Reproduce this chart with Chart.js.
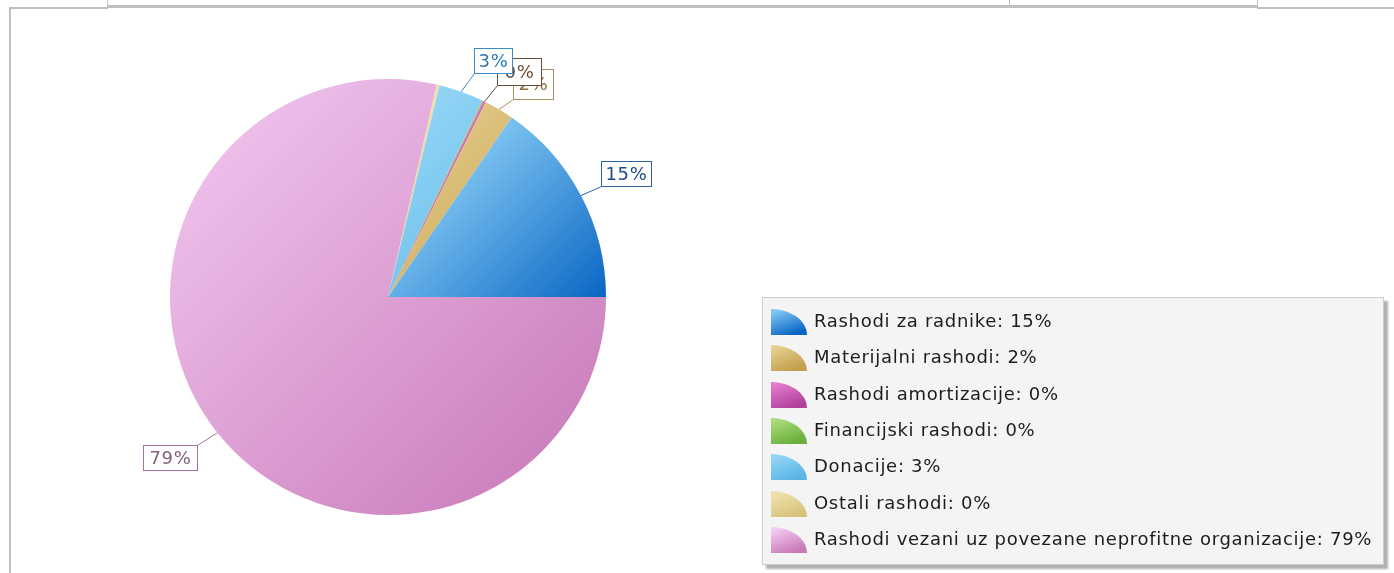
<!DOCTYPE html>
<html>
<head>
<meta charset="utf-8">
<script src="https://cdn.jsdelivr.net/npm/chart.js@4/dist/chart.umd.min.js"></script>
<style>
  html,body{margin:0;padding:0;background:#fff;}
  body{width:1394px;height:573px;position:relative;overflow:hidden;font-family:"DejaVu Sans",sans-serif;}
  .ln{position:absolute;background:#c0c0c0;}
  #wrap{position:absolute;left:0;top:0;width:1394px;height:573px;}
  #legend{position:absolute;left:762px;top:297px;width:622px;height:268px;box-sizing:border-box;
    background:#f4f4f4;border:1px solid #cfcfcf;box-shadow:4px 4px 2px #b0b0b0;}
  .row{position:absolute;left:8px;height:30px;}
  .ico{position:absolute;left:0;top:2px;width:36px;height:26px;border-radius:0 36px 0 0 / 0 26px 0 0;}
  .txt{position:absolute;left:43px;top:3px;font-size:18px;letter-spacing:0.7px;color:#1c1c1c;white-space:nowrap;}
</style>
</head>
<body>
<div class="ln" style="left:9px;top:7px;width:2px;height:566px"></div>
<div class="ln" style="left:9px;top:7px;width:99px;height:2px"></div>
<div class="ln" style="left:107px;top:0;width:1px;height:8px"></div>
<div class="ln" style="left:108px;top:5px;width:1150px;height:3px"></div>
<div class="ln" style="left:1009px;top:0;width:1px;height:6px"></div>
<div class="ln" style="left:1257px;top:0;width:1px;height:8px"></div>
<div class="ln" style="left:1257px;top:7px;width:137px;height:2px"></div>
<div id="wrap"><canvas id="chart"></canvas></div>
<div id="legend"></div>
<script>
const categories = [
  "Rashodi za radnike",
  "Materijalni rashodi",
  "Rashodi amortizacije",
  "Financijski rashodi",
  "Donacije",
  "Ostali rashodi",
  "Rashodi vezani uz povezane neprofitne organizacije"
];
const shares = [15.4, 2.2, 0.2, 0.1, 3.3, 0.2, 78.6];

// light / dark end of each slice gradient
const lightColors = ["#80c6f2", "#e6d090", "#e47ccc", "#aadc7a", "#94d6f6", "#efe3aa", "#f4caf2"];
const darkColors  = ["#0a66c4", "#c49e4c", "#b0409a", "#6aae3c", "#5ab4e6", "#d6c27c", "#c87ab8"];
const gradStops   = [[0.42, 0.75], [0.3, 0.7], [0.3, 0.7], [0.3, 0.7], [0.3, 0.7], [0.3, 0.7], [0.0, 0.95]];

// labelled slices: box offset from slice edge, colours; drawn back to front
const labelStyle = {
  "Materijalni rashodi":  {dx: 14, dy: -40, h: 30, pad: 10, border: "#a89060", text: "#8a7040"},
  "Rashodi amortizacije": {dx: 12, dy: -44, h: 27, pad: 14, border: "#6a4c38", text: "#6a4c38"},
  "Donacije":             {dx: 13, dy: -44, h: 25, pad: 8, border: "#3a8ec8", text: "#2a78b6"},
  "Rashodi za radnike":   {dx: 20, dy: -35, h: 25, pad: 8, border: "#2a62a4", text: "#1c4c86"},
  "Rashodi vezani uz povezane neprofitne organizacije": {dx: -74, dy: 12, h: 25, pad: 12, border: "#a8709c", text: "#86607c"}
};

// chart.js goes clockwise, the original goes counter-clockwise from 3 o'clock
const chartLabels = categories.slice().reverse();
const chartValues = shares.slice().reverse();
const chartLight = lightColors.slice().reverse();
const chartDark = darkColors.slice().reverse();
const chartStops = gradStops.slice().reverse();

function sliceFill(c){
  const area = c.chart.chartArea;
  const i = c.dataIndex;
  if(!area) return chartDark[i];
  const g = c.chart.ctx.createLinearGradient(area.left, area.top, area.right, area.bottom);
  g.addColorStop(chartStops[i][0], chartLight[i]);
  g.addColorStop(chartStops[i][1], chartDark[i]);
  return g;
}

const boxLabels = {
  id: "boxLabels",
  afterDatasetsDraw(chart){
    const ctx = chart.ctx;
    const meta = chart.getDatasetMeta(0);
    ctx.save();
    ctx.font = '18px "DejaVu Sans"';
    ctx.letterSpacing = "0.7px";
    ctx.textBaseline = "middle";
    ctx.textAlign = "center";
    Object.keys(labelStyle).forEach(name=>{
      const i = chartLabels.indexOf(name);
      const st = labelStyle[name];
      const p = meta.data[i].getProps(["x","y","startAngle","endAngle","outerRadius"], true);
      const mid = (p.startAngle + p.endAngle) / 2;
      const ax = p.x + Math.cos(mid) * p.outerRadius;
      const ay = p.y + Math.sin(mid) * p.outerRadius;
      const txt = Math.round(chartValues[i]) + "%";
      const w = Math.round(ctx.measureText(txt).width) + st.pad, h = st.h;
      const bx = Math.round(ax + st.dx) + 0.5, by = Math.round(ay + st.dy) + 0.5;
      const cx = ax < bx ? bx : bx + w;
      const cy = ay < by ? by : by + h;
      ctx.strokeStyle = st.border;
      ctx.lineWidth = 1;
      ctx.beginPath(); ctx.moveTo(ax, ay); ctx.lineTo(cx, cy); ctx.stroke();
      ctx.fillStyle = "#ffffff";
      ctx.fillRect(bx, by, w, h);
      ctx.strokeRect(bx, by, w, h);
      ctx.fillStyle = st.text;
      ctx.fillText(txt, bx + w / 2, by + h / 2 + 1);
    });
    ctx.restore();
  }
};

const chart = new Chart(document.getElementById("chart"), {
  type: "pie",
  data: {
    labels: chartLabels,
    datasets: [{
      data: chartValues,
      backgroundColor: sliceFill,
      borderWidth: 0,
      hoverOffset: 0
    }]
  },
  options: {
    responsive: true,
    maintainAspectRatio: false,
    animation: false,
    rotation: 90,
    layout: {padding: {left: 170, right: 788, top: 79, bottom: 58}},
    plugins: {legend: {display: false}, tooltip: {enabled: false}}
  },
  plugins: [boxLabels]
});

// html legend in the original order
const legend = document.getElementById("legend");
categories.forEach((name, i)=>{
  const row = document.createElement("div");
  row.className = "row";
  row.style.top = (9 + i * 36.3) + "px";
  const ico = document.createElement("div");
  ico.className = "ico";
  ico.style.background = `linear-gradient(160deg, ${lightColors[i]} 10%, ${darkColors[i]} 85%)`;
  const t = document.createElement("div");
  t.className = "txt";
  t.textContent = `${name}: ${Math.round(shares[i])}%`;
  row.appendChild(ico); row.appendChild(t);
  legend.appendChild(row);
});
</script>
</body>
</html>
